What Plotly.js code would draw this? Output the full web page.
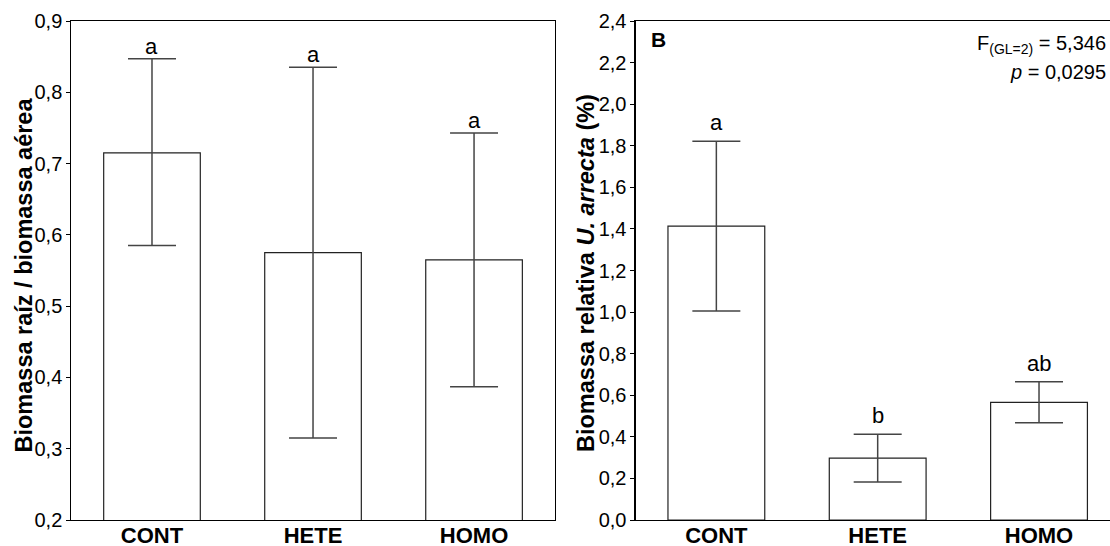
<!DOCTYPE html>
<html>
<head>
<meta charset="utf-8">
<script src="https://cdn.plot.ly/plotly-3.0.1.min.js"></script>
<style>html,body{margin:0;padding:0;background:#fff;}#chart{width:1110px;height:546px;}</style>
</head>
<body>
<div id="chart"></div>
<script>
// ---- data ----
const categories = ['CONT', 'HETE', 'HOMO'];
const ratioMeans = [0.715, 0.575, 0.565];
const ratioUpper = [0.847, 0.835, 0.743];
const ratioLower = [0.585, 0.315, 0.387];
const ratioLetters = ['a', 'a', 'a'];
const relMeans = [1.413, 0.298, 0.566];
const relUpper = [1.822, 0.413, 0.665];
const relLower = [1.005, 0.183, 0.468];
const relLetters = ['a', 'b', 'ab'];
const ratioTicks = [0.2, 0.3, 0.4, 0.5, 0.6, 0.7, 0.8, 0.9];
const relTicks = [0.0, 0.2, 0.4, 0.6, 0.8, 1.0, 1.2, 1.4, 1.6, 1.8, 2.0, 2.2, 2.4];
const ratioTitle = 'Biomassa raíz / biomassa aérea';
const relTitle = 'Biomassa relativa <i>U. arrecta</i> (%)';
const panelLabel = 'B';
const statF = 'F<sub>(GL=2)</sub> = 5,346';
const statP = '<i>p</i> = 0,0295';

// ---- styling ----
const FONT = 'Liberation Sans, Arial, Helvetica, sans-serif';
const W = 1110, H = 546;

function barTrace(means, upper, lower, xa, ya) {
  return {
    type: 'bar', x: categories, y: means, xaxis: xa, yaxis: ya,
    width: 0.6,
    marker: {color: '#ffffff', line: {color: '#222222', width: 1.2}},
    error_y: {
      type: 'data', symmetric: false,
      array: upper.map((u, i) => u - means[i]),
      arrayminus: lower.map((l, i) => means[i] - l),
      color: '#444444', thickness: 1.5, width: 24
    },
    hoverinfo: 'skip', showlegend: false
  };
}

const traces = [
  barTrace(ratioMeans, ratioUpper, ratioLower, 'x', 'y'),
  barTrace(relMeans, relUpper, relLower, 'x2', 'y2')
];

const annotations = [];
categories.forEach((c, i) => {
  annotations.push({x: c, y: ratioUpper[i], xref: 'x', yref: 'y', text: ratioLetters[i],
    showarrow: false, yanchor: 'bottom', yshift: -2, font: {family: FONT, size: 22, color: '#000'}});
  annotations.push({x: c, y: relUpper[i], xref: 'x2', yref: 'y2', text: relLetters[i],
    showarrow: false, yanchor: 'bottom', yshift: 4, font: {family: FONT, size: 22, color: '#000'}});
});
// y-axis titles
annotations.push({xref: 'paper', yref: 'paper', x: 24 / W, y: 0.49, xanchor: 'center', yanchor: 'middle',
  textangle: -90, text: '<b>' + ratioTitle + '</b>', showarrow: false, font: {family: FONT, size: 23.5, color: '#000'}});
annotations.push({xref: 'paper', yref: 'paper', x: 586 / W, y: 0.495, xanchor: 'center', yanchor: 'middle',
  textangle: -90, text: '<b>' + relTitle + '</b>', showarrow: false, font: {family: FONT, size: 23.5, color: '#000'}});
annotations.push({xref: 'x2 domain', yref: 'y2 domain', x: 0.028, y: 0.963, xanchor: 'left', yanchor: 'middle',
  text: '<b>' + panelLabel + '</b>', showarrow: false, font: {family: FONT, size: 21, color: '#000'}});
annotations.push({xref: 'paper', yref: 'y2 domain', x: 0.998, y: 0.953, xanchor: 'right', yanchor: 'middle',
  text: statF, showarrow: false, font: {family: FONT, size: 20, color: '#000'}});
annotations.push({xref: 'paper', yref: 'y2 domain', x: 0.998, y: 0.897, xanchor: 'right', yanchor: 'middle',
  text: statP, showarrow: false, font: {family: FONT, size: 20, color: '#000'}});

const axisCommon = {showline: true, linecolor: '#000', linewidth: 1.2, showgrid: false, zeroline: false, automargin: false};
const yCommon = Object.assign({}, axisCommon, {
  ticks: 'outside', ticklen: 4, tickcolor: '#000', tickwidth: 1,
  tickformat: '.1f', tickfont: {family: FONT, size: 20, color: '#000'}
});
const xCommon = Object.assign({}, axisCommon, {
  type: 'category', ticks: '', ticklabelstandoff: -5,
  tickfont: {family: FONT, size: 22, color: '#000', weight: 'bold'}
});

const layout = {
  width: W, height: H,
  margin: {l: 0, r: 0, t: 21, b: 26, pad: 0},
  paper_bgcolor: '#fff', plot_bgcolor: '#fff',
  separators: ',.',
  font: {family: FONT, color: '#000'},
  xaxis: Object.assign({}, xCommon, {domain: [0.0644, 0.4996], range: [-0.5, 2.5], mirror: true, anchor: 'y'}),
  yaxis: Object.assign({}, yCommon, {domain: [0, 1], range: [0.2, 0.9], tickvals: ratioTicks, mirror: true, anchor: 'x'}),
  xaxis2: Object.assign({}, xCommon, {domain: [0.5727, 1], range: [-0.5, 2.44], mirror: true, anchor: 'y2'}),
  yaxis2: Object.assign({}, yCommon, {domain: [0, 1], range: [0, 2.4], tickvals: relTicks, mirror: false, anchor: 'x2'}),
  annotations: annotations
};

Plotly.newPlot('chart', traces, layout, {displayModeBar: false, staticPlot: true});
</script>
</body>
</html>
